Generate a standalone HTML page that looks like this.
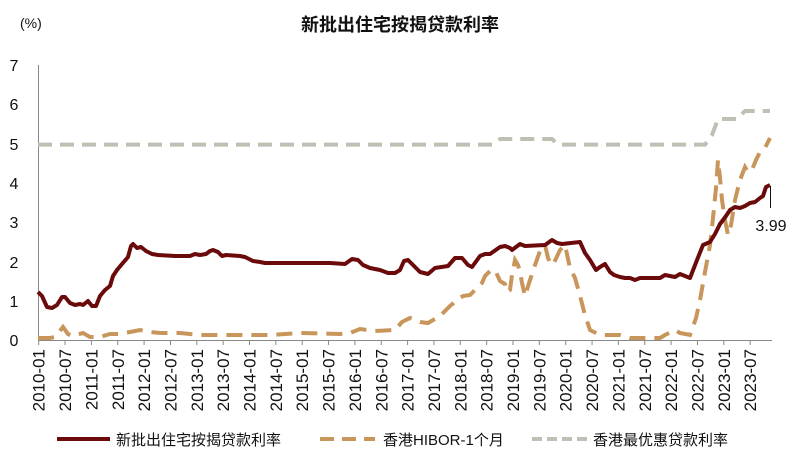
<!DOCTYPE html><html><head><meta charset="utf-8"><style>body{margin:0;background:#fff}svg{display:block}text{font-family:"Liberation Sans","Noto Sans CJK SC",sans-serif}</style></head><body>
<svg width="799" height="458" viewBox="0 0 799 458">
<text x="400" y="31" text-anchor="middle" font-size="18" font-weight="bold" fill="#111">新批出住宅按揭贷款利率</text>
<text x="20" y="28" font-size="14" fill="#111">(%)</text>
<g font-size="16" fill="#111" text-anchor="middle">
<text x="14" y="71">7</text><text x="14" y="110">6</text><text x="14" y="150">5</text><text x="14" y="189">4</text><text x="14" y="228">3</text><text x="14" y="268">2</text><text x="14" y="307">1</text><text x="14" y="346">0</text></g>
<line x1="38.5" y1="65" x2="38.5" y2="340" stroke="#888" stroke-width="1"/>
<line x1="38" y1="340.5" x2="772" y2="340.5" stroke="#888" stroke-width="1"/>
<g id="ticks" stroke="#888"></g>
<g id="xl" font-size="17" fill="#111"></g>
<polyline fill="none" stroke="#c0bfb3" stroke-width="4" stroke-dasharray="14 8" points="38,144.6 492,144.6 500,139 552,139 558,144.6 705,144.6 712,135 718,119 737,119 745,111 770,111"/>
<polyline fill="none" stroke="#c8955a" stroke-width="4" stroke-dasharray="16 9" points="38,338 50,338 55,337 63,327 68,334 72,336 83,333 90,337 100,337 110,334 120,334 140,330 150,332 160,333 180,333 200,335 230,335 270,335 300,333 340,334 350,333 360,329 375,331 395,330 402,322 410,318 420,322 428,323 440,316 450,306 460,298 463,296 470,295 482,283 485,276 490,271 495,270 500,281 505,284 507,292 510,290 512,275 515,260 518,265 520,272 522,283 525,296 530,280 535,265 540,251 545,245 548,258 550,262 553,265 560,250 565,245 570,268 575,278 580,296 585,315 590,330 600,335 610,335 620,335 630,338 640,338 660,338 665,335 675,330 680,333 690,335 696,318 700,300 705,272 710,245 713,218 716,188 718,160 720,178 722,200 725,220 728,235 731,225 735,200 740,180 745,167 748,172 752,170 756,160 760,152 765,148 770,138"/>
<polyline fill="none" stroke="#6b0a0a" stroke-width="4" stroke-linejoin="round" points="38,292 42,296 47,307 52,308 57,305 62,297 65,297 70,303 75,305 80,304 83,305 88,301 92,306 96,306 100,296 105,290 110,286 113,276 117,270 122,264 128,257 131,246 133,244 137,248 141,247 146,251 152,254 158,255 175,256 190,256 195,254 200,255 206,254 210,251 213,250 218,252 222,256 226,255 240,256 245,257 253,261 260,262 265,263 280,263 290,263 300,263 315,263 330,263 345,264 352,259 358,260 363,265 370,268 380,270 388,273 395,273 400,270 404,261 408,260 413,265 420,272 428,274 435,268 448,266 455,258 462,258 468,265 472,267 480,256 485,254 490,254 500,247 505,246 510,248 512,250 516,247 520,244 525,246 545,245 552,240 557,243 562,244 580,242 585,253 590,260 596,270 600,267 605,264 610,272 614,275 620,277 625,278 630,278 635,280 640,278 645,278 660,278 665,275 670,276 675,277 680,274 685,276 690,278 697,260 703,245 710,242 715,234 720,224 726,216 730,210 735,207 740,208 745,206 750,203 755,202 760,198 763,196 766,187 770,185"/>
<line x1="770.5" y1="186" x2="770.5" y2="208" stroke="#111" stroke-width="1"/>
<text x="771" y="231" font-size="16" text-anchor="middle" fill="#111">3.99</text>
<line x1="57" y1="439" x2="110" y2="439" stroke="#6b0a0a" stroke-width="4"/>
<text x="116" y="445" font-size="15" fill="#111">新批出住宅按揭贷款利率</text>
<line x1="320" y1="439" x2="375" y2="439" stroke="#c8955a" stroke-width="4" stroke-dasharray="14 8"/>
<text x="383" y="445" font-size="15" fill="#111">香港HIBOR-1个月</text>
<line x1="532" y1="439" x2="587" y2="439" stroke="#c0bfb3" stroke-width="4" stroke-dasharray="10 5"/>
<text x="593" y="445" font-size="15" fill="#111">香港最优惠贷款利率</text>
</svg>
<script>
var t=document.getElementById('ticks'),xl=document.getElementById('xl'),ns='http://www.w3.org/2000/svg';
for(var i=0;i<28;i++){var x=38.7+i*26.35;var l=document.createElementNS(ns,'line');l.setAttribute('x1',x);l.setAttribute('x2',x);l.setAttribute('y1',340);l.setAttribute('y2',345);t.appendChild(l);
var y=2010+Math.floor(i/2),m=i%2?'07':'01';var tx=document.createElementNS(ns,'text');tx.setAttribute('transform','translate('+(x+6)+',349) rotate(-90)');tx.setAttribute('text-anchor','end');tx.textContent=y+'-'+m;xl.appendChild(tx);}
</script>
</body></html>
